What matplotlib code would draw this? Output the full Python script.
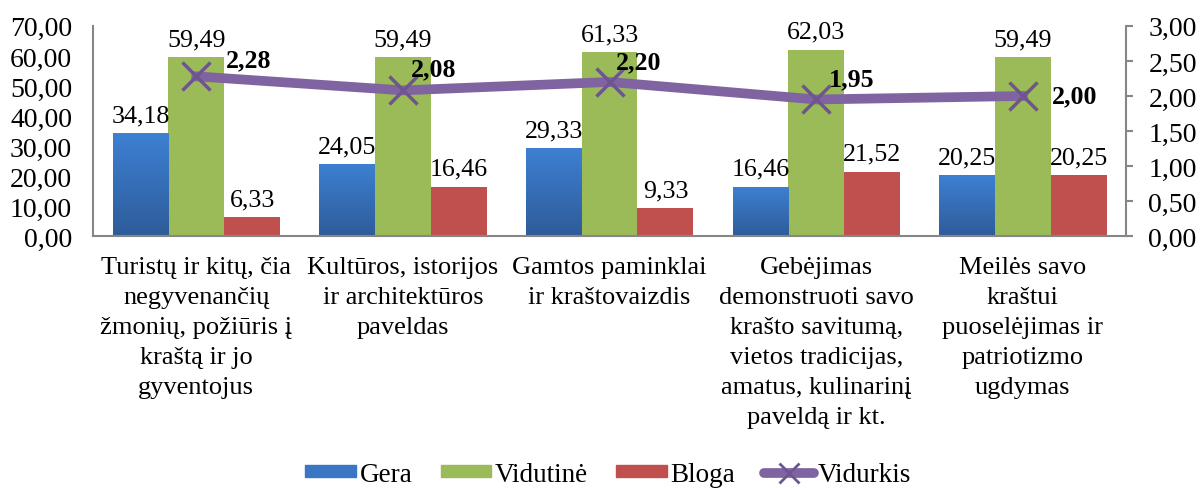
import numpy as np
import matplotlib.pyplot as plt
from matplotlib.lines import Line2D
from matplotlib.patches import Patch
from matplotlib.colors import LinearSegmentedColormap

plt.rcParams['font.family'] = ['Liberation Serif', 'DejaVu Serif']

# duomenys
kategorijos = ["Turistų ir kitų, čia\nnegyvenančių\nžmonių, požiūris į\nkraštą ir jo\ngyventojus",
               "Kultūros, istorijos\nir architektūros\npaveldas",
               "Gamtos paminklai\nir kraštovaizdis",
               "Gebėjimas\ndemonstruoti savo\nkrašto savitumą,\nvietos tradicijas,\namatus, kulinarinį\npaveldą ir kt.",
               "Meilės savo\nkraštui\npuoselėjimas ir\npatriotizmo\nugdymas"]
gera = [34.18, 24.05, 29.33, 16.46, 20.25]
vidutine = [59.49, 59.49, 61.33, 62.03, 59.49]
bloga = [6.33, 16.46, 9.33, 21.52, 20.25]
vidurkis = [2.28, 2.08, 2.20, 1.95, 2.00]

def fmt(v):
    return "{:.2f}".format(v).replace(".", ",")

fs_tick = 20
fs_cat = 19
fs_val = 18.7
fs_leg = 19.5
spalva_gera = '#3A76C4'
spalva_vid = '#9BBB59'
spalva_blo = '#C0504D'
spalva_lin = '#8064A2'
pilka = '#868686'

fig = plt.figure(figsize=(12, 4.89), dpi=100)
ax = fig.add_axes([0.0775, 0.515, 0.861, 0.43])
ax2 = ax.twinx()

x = np.arange(len(kategorijos))
w = 0.27
b1 = ax.bar(x - w, gera, w, color=spalva_gera, zorder=2)
b2 = ax.bar(x, vidutine, w, color=spalva_vid, zorder=2)
b3 = ax.bar(x + w, bloga, w, color=spalva_blo, zorder=2)

# gradientas melyniems stulpeliams
grad = np.linspace(0, 1, 100).reshape(-1, 1)
cmap_g = LinearSegmentedColormap.from_list('g', ['#2E5C9A', '#3D80D2'])
for r in b1:
    bx, by = r.get_x(), r.get_y()
    bw, bh = r.get_width(), r.get_height()
    im = ax.imshow(grad, extent=[bx, bx + bw, by, by + bh], cmap=cmap_g,
                   aspect='auto', origin='lower', zorder=2.1)
    im.set_clip_path(r)

for bars, vals in [(b1, gera), (b2, vidutine), (b3, bloga)]:
    for r, v in zip(bars, vals):
        ax.annotate(fmt(v), (r.get_x() + r.get_width() / 2, v), xytext=(0, 5),
                    textcoords='offset points', ha='center', va='bottom', fontsize=fs_val)

ax.set_xlim(-0.5, len(kategorijos) - 0.5)
ax.set_ylim(0, 70)
ax.set_yticks(np.arange(0, 71, 10))
ax.set_yticklabels([fmt(t) for t in np.arange(0, 71, 10)], fontsize=fs_tick)
ax.tick_params(axis='y', length=0, pad=15)
ax.set_xticks(x)
ax.set_xticklabels(kategorijos, fontsize=fs_cat, linespacing=1.48, va='top')
ax.tick_params(axis='x', length=0, pad=14)
for s in ['top', 'right']:
    ax.spines[s].set_visible(False)
ax.spines['left'].set_color(pilka)
ax.spines['bottom'].set_color(pilka)
ax.spines['left'].set_linewidth(1.5)
ax.spines['bottom'].set_linewidth(1.5)

ax2.plot(x, vidurkis, color=spalva_lin, lw=7, marker='x', ms=20, mew=2.5,
         mec='#6E5590', zorder=3)
poslinkiai = [(30, 17), (8, 22), (6, 20), (13, 21), (29, 0)]
for xi, v, d in zip(x, vidurkis, poslinkiai):
    ax2.annotate(fmt(v), (xi, v), xytext=d, textcoords='offset pixels',
                 ha='left', va='center', fontsize=fs_val, fontweight='bold')
ax2.set_ylim(0, 3)
ax2.set_yticks(np.arange(0, 3.01, 0.5))
ax2.set_yticklabels([fmt(t) for t in np.arange(0, 3.01, 0.5)], fontsize=fs_tick)
ax2.tick_params(axis='y', length=5, color=pilka, width=1.5, pad=11)
for s in ['top', 'left', 'bottom']:
    ax2.spines[s].set_visible(False)
ax2.spines['right'].set_color(pilka)
ax2.spines['right'].set_linewidth(1.5)

rankenos = [Patch(color=spalva_gera), Patch(color=spalva_vid), Patch(color=spalva_blo),
            Line2D([0], [0], color=spalva_lin, lw=7, marker='x', ms=14, mew=2,
                   mec='#6E5590', solid_capstyle='round')]
fig.legend(rankenos, ['Gera', 'Vidutinė', 'Bloga', 'Vidurkis'], loc='center',
           bbox_to_anchor=(0.507, 0.028), ncol=4, frameon=False, fontsize=fs_leg,
           handlelength=1.85, handleheight=0.3, handletextpad=0.15, columnspacing=1.05,
           borderpad=0.1)

plt.savefig('out.png', dpi=100)
